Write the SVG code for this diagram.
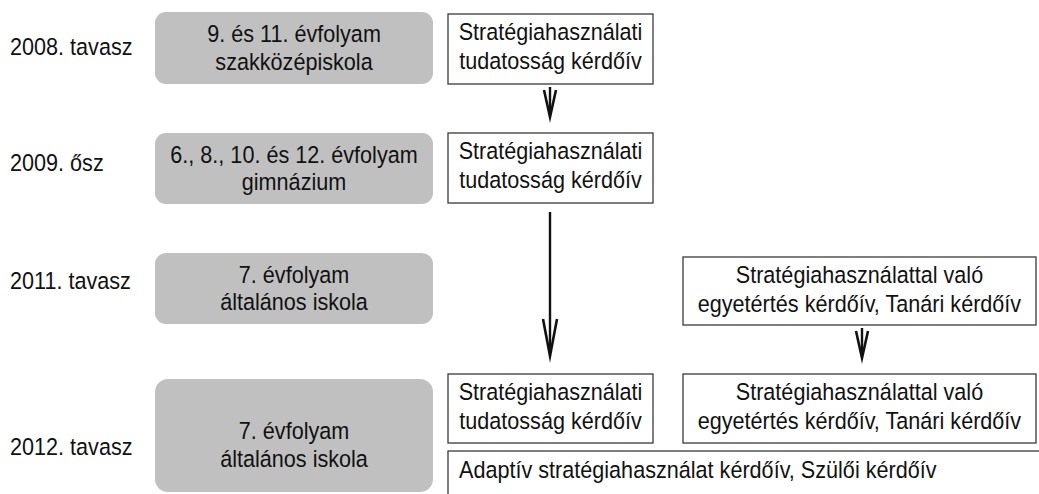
<svg xmlns="http://www.w3.org/2000/svg" width="1039" height="494" viewBox="0 0 1039 494">
<style>
.g{fill:#c0c0c0;stroke:none}
.w{fill:#fff;stroke:#3a3a3a;stroke-width:1.3}
.t{font-family:"Liberation Sans",Arial,sans-serif;font-size:23.5px;fill:#111}
.c{text-anchor:middle}
.ln{stroke:#111;stroke-width:2.4;fill:none}
.hd{stroke:#111;stroke-width:2.6;fill:none;stroke-linejoin:miter;stroke-miterlimit:20}
</style>
<rect width="1039" height="494" fill="#fff"/>
<g id="years" transform="scale(0.92 1)">
<text class="t" x="10.9" y="55">2008. tavasz</text>
<text class="t" x="10.9" y="171">2009. ősz</text>
<text class="t" x="10.9" y="289">2011. tavasz</text>
<text class="t" x="10.9" y="455">2012. tavasz</text>
</g>
<g id="g2008">
<rect class="g" x="155" y="12" width="278" height="72" rx="11"/>
<text class="t c" transform="scale(0.92 1)"><tspan x="319.6" y="42.5">9. és 11. évfolyam</tspan><tspan x="319.6" y="70">szakközépiskola</tspan></text>
</g>
<g id="g2009">
<rect class="g" x="155" y="133" width="278" height="71" rx="11"/>
<text class="t c" transform="scale(0.92 1)"><tspan x="319.6" y="163">6., 8., 10. és 12. évfolyam</tspan><tspan x="319.6" y="190.5">gimnázium</tspan></text>
</g>
<g id="g2011">
<rect class="g" x="155" y="253" width="278" height="71" rx="11"/>
<text class="t c" transform="scale(0.92 1)"><tspan x="319.6" y="283">7. évfolyam</tspan><tspan x="319.6" y="310.5">általános iskola</tspan></text>
</g>
<g id="g2012">
<rect class="g" x="155" y="379" width="278" height="113" rx="13"/>
<text class="t c" transform="scale(0.92 1)"><tspan x="319.6" y="439">7. évfolyam</tspan><tspan x="319.6" y="467">általános iskola</tspan></text>
</g>
<g id="q2008">
<rect class="w" x="448" y="14" width="205" height="70"/>
<text class="t c" transform="scale(0.92 1)"><tspan x="598.4" y="40.5">Stratégiahasználati</tspan><tspan x="598.4" y="69.5">tudatosság kérdőív</tspan></text>
</g>
<g id="q2009">
<rect class="w" x="448" y="133" width="205" height="70"/>
<text class="t c" transform="scale(0.92 1)"><tspan x="598.4" y="159.5">Stratégiahasználati</tspan><tspan x="598.4" y="188.5">tudatosság kérdőív</tspan></text>
</g>
<g id="q2011">
<rect class="w" x="683" y="257" width="353" height="68"/>
<text class="t c" transform="scale(0.92 1)"><tspan x="934.2" y="283.5">Stratégiahasználattal való</tspan><tspan x="934.2" y="312.5">egyetértés kérdőív, Tanári kérdőív</tspan></text>
</g>
<g id="q2012a">
<rect class="w" x="448" y="374" width="205" height="69"/>
<text class="t c" transform="scale(0.92 1)"><tspan x="598.4" y="400">Stratégiahasználati</tspan><tspan x="598.4" y="429">tudatosság kérdőív</tspan></text>
</g>
<g id="q2012b">
<rect class="w" x="683" y="374" width="353" height="69"/>
<text class="t c" transform="scale(0.92 1)"><tspan x="934.2" y="400">Stratégiahasználattal való</tspan><tspan x="934.2" y="429">egyetértés kérdőív, Tanári kérdőív</tspan></text>
</g>
<g id="q2012c">
<rect class="w" x="448" y="451" width="620" height="60"/>
<text class="t" transform="scale(0.92 1)" x="498.9" y="478">Adaptív stratégiahasználat kérdőív, Szülői kérdőív</text>
</g>
<g id="connectors">
<line class="ln" x1="550" y1="87" x2="550" y2="115"/>
<polyline class="hd" points="544,90 550,117 556,90"/>
<line class="ln" x1="550" y1="212" x2="550" y2="353"/>
<polyline class="hd" points="543,319 550,356 557,319"/>
<line class="ln" x1="862" y1="328" x2="862" y2="356"/>
<polyline class="hd" points="856,331 862,358 868,331"/>
</g>
</svg>
